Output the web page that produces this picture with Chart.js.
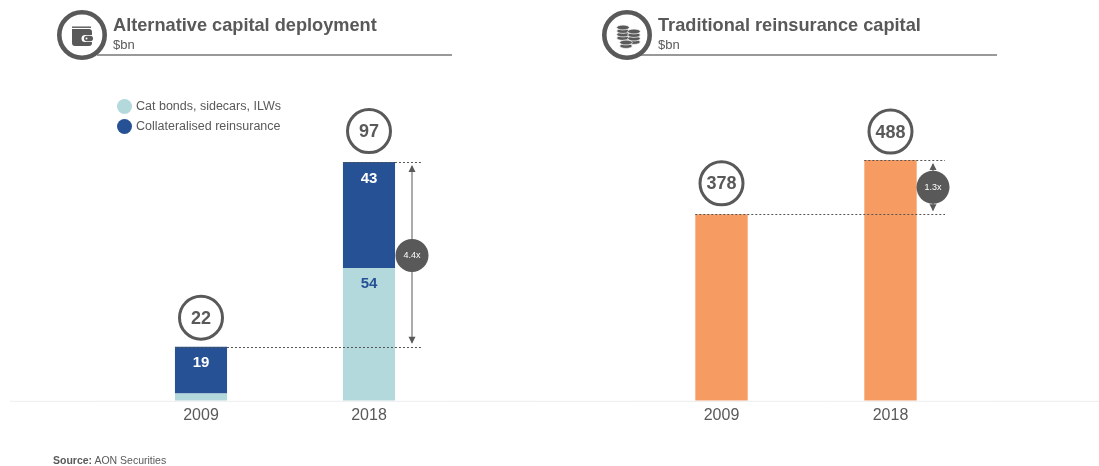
<!DOCTYPE html>
<html>
<head>
<meta charset="utf-8">
<script src="https://cdn.jsdelivr.net/npm/chart.js@4"></script>
<style>
html, body { margin: 0; padding: 0; background: #fff; }
body { width: 1099px; height: 466px; position: relative; overflow: hidden; font-family: "Liberation Sans", Arial, sans-serif; color: #595959; }
canvas { position: absolute; top: 0; }
.txt { position: absolute; white-space: nowrap; }
.title { font-size: 18.2px; font-weight: bold; line-height: 20px; top: 15px; }
.sub { font-size: 13px; line-height: 15px; top: 37px; }
.rule { position: absolute; top: 54px; height: 1.5px; background: #999; }
.icon { position: absolute; top: 9px; }
.dot { position: absolute; width: 15px; height: 15px; border-radius: 50%; left: 117px; }
.leg { font-size: 12.5px; left: 136px; line-height: 15px; }
</style>
</head>
<body>
<canvas id="altChart" style="left:0"></canvas>
<canvas id="tradChart" style="left:550px"></canvas>

<div class="rule" style="left:97px;width:355px"></div>
<svg class="icon" style="left:56px" width="52" height="52" viewBox="0 0 52 52">
  <circle cx="26" cy="26" r="22.7" fill="#fff" stroke="#595959" stroke-width="4.6"/>
  <rect x="16" y="17.500" width="19" height="1.400" fill="#595959"/>
  <path d="M16 20h17a3 3 0 0 1 3 3v3h-7a3.500 3.500 0 0 0 0 7h7v1a3 3 0 0 1-3 3H19a3 3 0 0 1-3-3z" fill="#595959"/>
  <rect x="28" y="26.800" width="9" height="5.400" rx="2.700" fill="#595959"/>
  <circle cx="30.500" cy="29.500" r="1" fill="#fff"/>
</svg>
<div class="txt title" style="left:113px">Alternative capital deployment</div>
<div class="txt sub" style="left:113px">$bn</div>

<div class="rule" style="left:640px;width:357px"></div>
<svg class="icon" style="left:601px" width="52" height="52" viewBox="0 0 52 52">
  <circle cx="26" cy="26" r="22.7" fill="#fff" stroke="#595959" stroke-width="4.6"/>
  <g fill="#595959" stroke="#fff" stroke-width="0.7">
    <ellipse cx="22" cy="29" rx="6.300" ry="2.400"/><ellipse cx="22" cy="25.500" rx="6.300" ry="2.400"/><ellipse cx="22" cy="22" rx="6.300" ry="2.400"/><ellipse cx="22" cy="18.500" rx="6.300" ry="2.400"/>
    <ellipse cx="33" cy="33" rx="6.300" ry="2.400"/><ellipse cx="33" cy="29.500" rx="6.300" ry="2.400"/><ellipse cx="33" cy="26" rx="6.300" ry="2.400"/><ellipse cx="33" cy="22.500" rx="6.300" ry="2.400"/>
    <ellipse cx="25" cy="37" rx="6.300" ry="2.400"/><ellipse cx="25" cy="33.500" rx="6.300" ry="2.400"/>
  </g>
</svg>
<div class="txt title" style="left:658px">Traditional reinsurance capital</div>
<div class="txt sub" style="left:658px">$bn</div>

<div class="dot" style="top:99px;background:#B3D9DC"></div>
<div class="txt leg" style="top:99px">Cat bonds, sidecars, ILWs</div>
<div class="dot" style="top:119px;background:#265295"></div>
<div class="txt leg" style="top:119px">Collateralised reinsurance</div>

<div class="txt" style="left:53px;top:454px;font-size:10.5px;line-height:12px"><b>Source:</b> AON Securities</div>

<script>
var years = ["2009", "2018"];

// Left panel, stacked
var catBonds = [3, 54];
var collateralised = [19, 43];
var altTotals = [22, 97];
var altMultiple = "4.4x";

// Right panel
var traditional = [378, 488];
var tradMultiple = "1.3x";

var GREY = "#595959";
var LIGHT = "#B3D9DC";
var BLUE = "#265295";
var ORANGE = "#F69C63";

// Everything the library has no element for: segment values, ringed totals, dotted lines, arrow and badge
function overlayPlugin(cfg) {
    return {
        id: "overlay",
        afterDatasetsDraw: function (chart) {
            var c = chart.ctx;
            var y = chart.scales.y;
            var area = chart.chartArea;
            var bars = chart.getDatasetMeta(0).data;

            // baseline runs wider than the plot
            c.save();
            c.strokeStyle = "#EDEDED";
            c.lineWidth = 1;
            c.beginPath();
            c.moveTo(cfg.lineFrom, area.bottom + 0.5);
            c.lineTo(cfg.lineTo, area.bottom + 0.5);
            c.stroke();

            // segment labels
            c.textAlign = "center";
            c.textBaseline = "middle";
            c.font = "bold 15px 'Liberation Sans'";
            (cfg.segLabels || []).forEach(function (s) {
                var el = chart.getDatasetMeta(s.ds).data[s.i];
                c.fillStyle = s.color;
                c.fillText(chart.data.datasets[s.ds].data[s.i], el.x, el.y + s.dy);
            });

            // dotted guide lines
            var top0 = y.getPixelForValue(cfg.totals[0]);
            var top1 = y.getPixelForValue(cfg.totals[1]);
            c.strokeStyle = "#555";
            c.lineWidth = 1;
            c.setLineDash([2, 2]);
            c.beginPath();
            c.moveTo(bars[0].x - bars[0].width / 2, Math.round(top0) + 0.5);
            c.lineTo(cfg.guideEnd, Math.round(top0) + 0.5);
            c.moveTo(bars[1].x - bars[1].width / 2, Math.round(top1) + 0.5);
            c.lineTo(cfg.guideEnd, Math.round(top1) + 0.5);
            c.stroke();
            c.setLineDash([]);

            // double arrow
            c.strokeStyle = GREY;
            c.fillStyle = GREY;
            c.beginPath();
            c.moveTo(cfg.arrowX + 0.5, top1 + 4);
            c.lineTo(cfg.arrowX + 0.5, top0 - 4);
            c.stroke();
            [[top1 + 3, 1], [top0 - 3, -1]].forEach(function (a) {
                c.beginPath();
                c.moveTo(cfg.arrowX + 0.5, a[0]);
                c.lineTo(cfg.arrowX + 4, a[0] + a[1] * 7);
                c.lineTo(cfg.arrowX - 3, a[0] + a[1] * 7);
                c.closePath();
                c.fill();
            });

            // multiple badge
            var midY = (top0 + top1) / 2;
            c.beginPath();
            c.arc(cfg.arrowX + 0.5, midY + cfg.badgeDy, 16.5, 0, Math.PI * 2);
            c.fill();
            c.fillStyle = "#fff";
            c.font = "9px 'Liberation Sans'";
            c.fillText(cfg.multiple, cfg.arrowX + 0.5, midY + cfg.badgeDy + 0.5);

            // ringed totals
            cfg.totals.forEach(function (t, i) {
                var cy = y.getPixelForValue(t) - cfg.ringGap[i];
                c.beginPath();
                c.arc(bars[i].x, cy, 21.5, 0, Math.PI * 2);
                c.fillStyle = "#fff";
                c.fill();
                c.strokeStyle = GREY;
                c.lineWidth = 3;
                c.stroke();
                c.fillStyle = GREY;
                c.font = "bold 18px 'Liberation Sans'";
                c.fillText(t, bars[i].x, cy + 1);
            });
            c.restore();
        }
    };
}

function makeChart(id, datasets, yMax, padLeft, padRight, cfg) {
    var canvas = document.getElementById(id);
    canvas.width = 550;
    canvas.height = 466;
    return new Chart(canvas, {
        type: "bar",
        data: { labels: years, datasets: datasets },
        options: {
            responsive: false,
            animation: false,
            layout: { padding: { left: padLeft, right: padRight, top: 60, bottom: 36 } },
            plugins: { legend: { display: false }, tooltip: { enabled: false } },
            scales: {
                x: {
                    stacked: true,
                    grid: { display: false, drawTicks: false },
                    border: { display: false },
                    ticks: { color: GREY, font: { size: 16, family: "'Liberation Sans'" }, padding: 5, maxRotation: 0 }
                },
                y: { stacked: true, display: false, min: 0, max: yMax }
            }
        },
        plugins: [overlayPlugin(cfg)]
    });
}

function bar(values, color) {
    return { data: values, backgroundColor: color, barPercentage: 0.31, categoryPercentage: 1, borderWidth: 0 };
}

makeChart("altChart", [bar(catBonds, LIGHT), bar(collateralised, BLUE)], 138.5, 117, 97, {
    totals: altTotals,
    multiple: altMultiple,
    ringGap: [29, 31],
    lineFrom: 10, lineTo: 550,
    guideEnd: 422, arrowX: 411.5, badgeDy: 1,
    segLabels: [
        { ds: 1, i: 0, color: "#fff", dy: 16 },
        { ds: 1, i: 1, color: "#fff", dy: 17 },
        { ds: 0, i: 1, color: BLUE, dy: 16 }
    ]
});

makeChart("tradChart", [bar(traditional, ORANGE)], 691, 87, 125, {
    totals: traditional,
    multiple: tradMultiple,
    ringGap: [31, 28.5],
    lineFrom: 0, lineTo: 549,
    guideEnd: 395, arrowX: 382.5, badgeDy: 0
});
</script>
</body>
</html>
